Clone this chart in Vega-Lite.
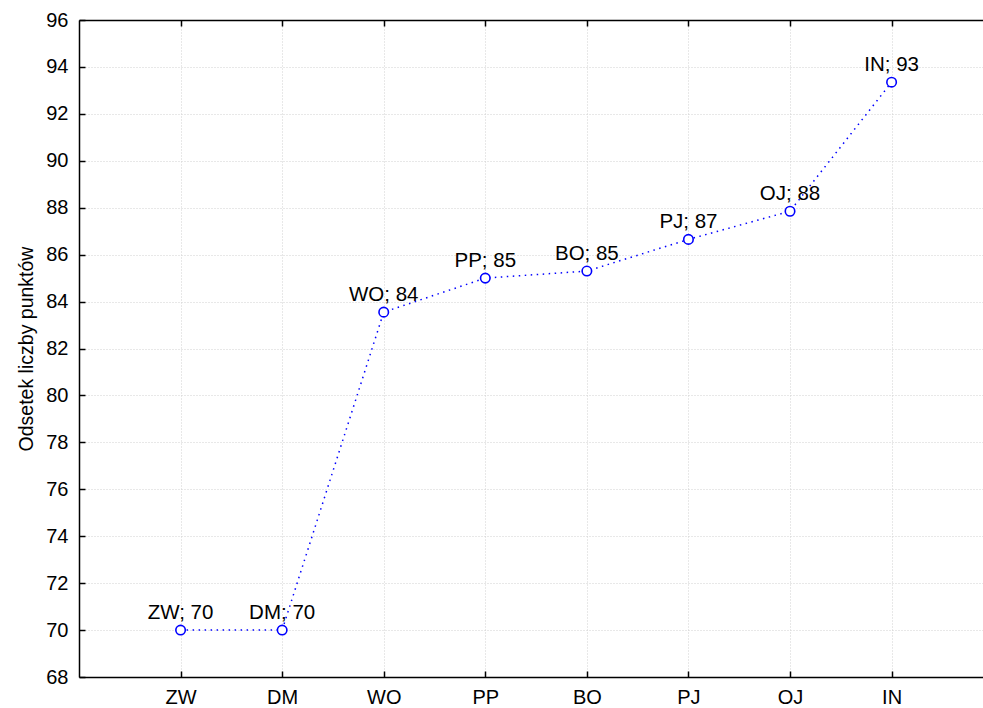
{
  "$schema": "https://vega.github.io/schema/vega-lite/v6.json",
  "autosize": "none",
  "width": 904,
  "height": 657,
  "padding": {"left": 79, "top": 20, "right": 0, "bottom": 31},
  "background": "white",
  "config": {
    "font": "Liberation Sans",
    "view": {"stroke": null},
    "axis": {
      "domain": true,
      "domainColor": "black",
      "domainWidth": 1.5,
      "grid": true,
      "gridColor": "#d0d0d0",
      "gridDash": [1, 2],
      "gridWidth": 1,
      "tickColor": "black",
      "tickSize": -6,
      "tickWidth": 1.5,
      "labelFont": "Liberation Sans",
      "labelFontSize": 20,
      "labelColor": "black",
      "titleFont": "Liberation Sans",
      "titleFontSize": 19.5,
      "titleFontWeight": "normal",
      "titleColor": "black"
    }
  },
  "data": {
    "values": [
      {"i": 1, "kod": "ZW", "v": 70.0, "label": "ZW; 70"},
      {"i": 2, "kod": "DM", "v": 70.0, "label": "DM; 70"},
      {"i": 3, "kod": "WO", "v": 83.55, "label": "WO; 84"},
      {"i": 4, "kod": "PP", "v": 85.0, "label": "PP; 85"},
      {"i": 5, "kod": "BO", "v": 85.3, "label": "BO; 85"},
      {"i": 6, "kod": "PJ", "v": 86.65, "label": "PJ; 87"},
      {"i": 7, "kod": "OJ", "v": 87.85, "label": "OJ; 88"},
      {"i": 8, "kod": "IN", "v": 93.35, "label": "IN; 93"}
    ]
  },
  "resolve": {"axis": {"x": "independent", "y": "independent"}},
  "layer": [
    {
      "mark": {"type": "line", "color": "#0000ff", "strokeWidth": 1.5, "strokeDash": [1.5, 4.5]},
      "encoding": {
        "x": {
          "field": "i", "type": "quantitative",
          "scale": {"domain": [0, 8.9], "nice": false, "zero": false},
          "axis": {
            "orient": "bottom", "title": null,
            "values": [1, 2, 3, 4, 5, 6, 7, 8],
            "labelExpr": "['','ZW','DM','WO','PP','BO','PJ','OJ','IN'][datum.value]",
            "labelPadding": 16
          }
        },
        "y": {
          "field": "v", "type": "quantitative",
          "scale": {"domain": [68, 96], "nice": false, "zero": false},
          "axis": {
            "orient": "left", "title": "Odsetek liczby punktów",
            "values": [68,70,72,74,76,78,80,82,84,86,88,90,92,94,96],
            "labelPadding": 17,
            "titlePadding": 9
          }
        }
      }
    },
    {
      "mark": {"type": "point", "shape": "circle", "size": 90, "color": "#0000ff", "filled": true, "fill": "white", "stroke": "#0000ff", "strokeWidth": 1.6, "opacity": 1},
      "encoding": {
        "x": {
          "field": "i", "type": "quantitative",
          "axis": {
            "orient": "top", "title": null, "grid": false,
            "values": [1, 2, 3, 4, 5, 6, 7, 8],
            "labels": false
          }
        },
        "y": {"field": "v", "type": "quantitative", "axis": null}
      }
    },
    {
      "mark": {"type": "text", "fontSize": 20.5, "font": "Liberation Sans", "color": "black", "baseline": "alphabetic", "align": "center", "dy": -11},
      "encoding": {
        "x": {"field": "i", "type": "quantitative", "axis": null},
        "y": {"field": "v", "type": "quantitative", "axis": null},
        "text": {"field": "label"}
      }
    }
  ]
}
